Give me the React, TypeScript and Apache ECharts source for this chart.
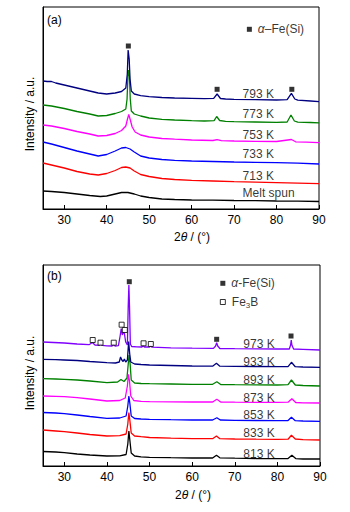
import React, { useEffect, useRef } from 'react';
import * as echarts from 'echarts';

const FONT = 'Liberation Sans, Arial, sans-serif';
const xTicks = [30, 40, 50, 60, 70, 80, 90];

// ---------- Panel (a) ----------
const meltSpun = [[25,18],[27,17.5],[30,16.5],[33,15],[36,13.5],[38.5,12.5],[40,13],[42,15],[43.5,16.5],[45,16.5],[46.5,15],[48,13],[50,11.5],[53,10],[56,9.5],[60,9],[65,8.8],[70,8.5],[75,8.3],[80,8],[85,7.8],[90,7.5]];
const a713 = [[25,46],[27,44],[30,41],[33,37.5],[36,35],[38,34],[40,35.5],[42,38.5],[43.5,41.5],[44.5,42],[45.5,41],[46.5,38],[48,34.5],[50,32.5],[53,30.5],[56,29.5],[60,28.7],[65,28],[70,27.3],[75,26.8],[80,26.3],[85,25.8],[90,25.3]];
const a733 = [[25,67],[27,65],[30,61.5],[33,58],[36,55],[38,53],[40,54.5],[42,58],[43.5,61],[44.5,61.5],[45.5,60],[46.5,57],[48,53],[50,51],[53,49.5],[56,48.7],[60,48],[65,47.5],[70,47],[75,46.6],[80,46.3],[85,45.8],[90,45]];
const a753 = [[25,84],[27,83],[30,80.5],[33,77.5],[36,75],[38,73],[40,73.5],[42,75.5],[43.5,78.5],[44.5,83],[44.9,90],[45.2,94.5],[45.5,90],[46,82],[46.7,77],[48,74],[50,72],[53,70.5],[56,69.8],[60,69],[65,68.5],[66,69.3],[67,68.3],[70,68],[75,67.7],[80,67.5],[83.5,69.5],[84.5,67.2],[87,66.8],[90,66.3]];
const a773 = [[25,104],[27,103],[30,100.5],[33,97.5],[36,95],[38,93],[40,93.5],[42,95.5],[43.5,97.5],[44.5,100],[44.8,110],[45,133],[45.15,139],[45.35,133],[45.55,110],[45.8,98],[46.5,95],[48,93],[50,91],[53,89.7],[56,89],[60,88.3],[63,88],[65.3,88.3],[65.9,92.5],[66.6,88.5],[68,87.7],[70,87.3],[75,87],[80,86.7],[82.5,87],[83.4,94],[84.2,88],[85,86.8],[88,86.5],[90,86.2]];
const a793 = [[25,128],[26,127.5],[27,127.5],[28,126],[30,124],[33,121],[36,118],[38,116],[40,115],[42,116],[43.5,117.5],[44.5,121],[44.85,135],[45.05,159],[45.3,150],[45.5,130],[45.8,118],[46.5,115],[48,113.3],[50,112.3],[53,111.5],[56,111],[60,110.7],[63,110.3],[65.2,110.7],[66,115],[66.8,110.5],[68,110],[70,109.7],[75,109.3],[80,109],[82.5,109.3],[83.5,115.7],[84.3,110],[85,108.8],[88,108],[90,107.3]];
const peaksA = [[45.1,163],[66,119.7],[83.6,119.7]];
const legendA = [[73.6,179.7]];
const namesA = ['793 K','773 K','753 K','733 K','713 K','Melt spun'];
const nameYA = [114.7,94.7,74,54.7,33.3,15.7];

// ---------- Panel (b) ----------
const b813 = [[25,14.5],[28,14],[30,13.3],[33,12],[36,11],[40,10],[43,10.2],[44.5,11.5],[44.9,22],[45.15,35],[45.4,25],[45.7,13],[46.5,10],[48,9.2],[50,8.7],[55,8.3],[60,8],[64.8,8],[65.7,10.7],[66.5,8.2],[70,7.8],[75,7.5],[80,7.3],[82.5,7.5],[83.4,10.7],[84.3,7.4],[86,7],[90,7]];
const b833 = [[25,36],[28,35],[30,34.3],[33,33],[36,31.5],[40,30],[43,30.3],[44.5,32],[44.9,42],[45.15,53.5],[45.4,45],[45.7,33],[46.5,30],[48,29.3],[50,28.5],[55,27.8],[60,27.3],[64.8,27.3],[65.7,30],[66.5,27.3],[70,27],[75,26.8],[80,26.7],[82.5,26.8],[83.3,30.7],[84.2,27],[86,26.3],[90,26]];
const b853 = [[25,53.5],[28,53],[30,52.3],[33,51],[36,49.5],[40,47.7],[43,48],[44.5,50],[44.9,60],[45.15,70],[45.4,62],[45.7,50],[46.5,47.5],[48,47],[50,46.7],[55,46.3],[60,46],[64.8,46],[65.8,48.3],[66.6,46],[70,45.7],[75,45.5],[80,45.3],[82.5,45.5],[83.3,48.7],[84.2,45.3],[86,45],[90,44.7]];
const b873 = [[25,70],[28,69.7],[30,69.3],[33,68.3],[36,67],[40,65],[43,65.5],[44.3,68],[44.8,80],[45.05,91.7],[45.3,85],[45.6,70],[46.3,65.5],[48,64.7],[50,64.3],[55,64.2],[60,64],[64.8,64],[65.8,66.7],[66.7,64],[70,63.8],[75,63.7],[80,63.7],[82.5,63.8],[83.4,67.3],[84.3,63.5],[86,63.2],[90,63]];
const b893 = [[25,87.3],[28,87],[30,86.7],[33,86],[36,85],[40,83.3],[42.5,84],[43.3,86.5],[44,84.5],[44.7,88],[45,102],[45.2,111],[45.45,102],[45.7,86],[46.5,83],[48,82.5],[50,82.3],[55,82],[60,81.7],[64.8,81.7],[65.8,84.3],[66.7,81.5],[70,81.3],[75,81.2],[80,81],[82.5,81.3],[83.3,86],[84.2,81],[86,80.5],[90,80]];
const b933 = [[25,106.7],[28,106.3],[30,106],[33,105.5],[36,104.5],[40,103.3],[42,103],[42.9,104],[43.2,109],[43.5,106],[43.8,104.5],[44.1,107],[44.4,104],[44.8,106],[45.1,124.5],[45.35,112],[45.6,104],[46.5,102],[48,101.5],[50,101],[55,100.5],[60,100],[64.8,99.8],[65.7,102.7],[66.5,99.8],[70,99.6],[75,99.5],[80,99.3],[82.5,99.3],[83.3,103.7],[84.2,99.3],[86,99],[90,98.7]];
const b973 = [[25,124],[27.5,123.5],[30,123],[33,122],[35.8,121.3],[36.6,123.5],[37.2,121],[38.2,120.7],[38.5,122],[38.9,120.6],[40,120.2],[41.2,120],[41.5,121.5],[41.9,120],[42.7,120.3],[43.1,130],[43.35,137.5],[43.6,131],[43.9,134],[44.1,132.5],[44.4,124],[44.8,121],[45,160],[45.15,181],[45.3,160],[45.5,122],[45.8,119.5],[47,119.2],[48.2,119],[48.5,120.3],[48.8,119],[50,119],[50.3,120.2],[50.6,118.8],[55,118.2],[60,117.8],[65,117.6],[65.5,120],[65.75,123.3],[66,120],[66.5,117.5],[70,117.3],[75,117.1],[80,117],[82.8,117],[83.1,121],[83.25,126],[83.4,121],[83.8,117],[86,116.7],[90,116]];
const peaksB = [[45.25,184.3],[65.75,126.7],[83.2,130]];
const fe3bB = [[36.66,126],[38.5,123.3],[41.6,123.3],[43.45,141.3],[44.2,136],[48.6,122.7],[50.3,122]];
const legendB1 = [[67.2,182.7]];
const legendB2 = [[67.2,164]];
const namesB = ['973 K','933 K','893 K','873 K','853 K','833 K','813 K'];
const nameYB = [121.7,104,85.7,68.3,50.7,33.3,11.7];
const nameX = 72;

function line(data: number[][], color: string, idx: number) {
  return {
    type: 'line', data, xAxisIndex: idx, yAxisIndex: idx, showSymbol: false, symbol: 'none',
    lineStyle: { color, width: 1.3 }, z: 2, silent: true,
  };
}

function labels(texts: string[], ys: number[], idx: number) {
  return {
    type: 'scatter', xAxisIndex: idx, yAxisIndex: idx, symbolSize: 0, silent: true, z: 5,
    data: texts.map((t, i) => ({ name: t, value: [nameX, ys[i]] })),
    label: { show: true, position: 'right', distance: 0, formatter: '{b}', color: '#000', fontSize: 12, fontFamily: FONT },
  };
}

function squares(data: number[][], idx: number, open: boolean, labelText?: string) {
  return {
    type: 'scatter', xAxisIndex: idx, yAxisIndex: idx, symbol: 'rect', symbolSize: 5, silent: true, z: 6,
    data,
    itemStyle: open ? { color: '#fff', borderColor: '#000', borderWidth: 1 } : { color: '#000' },
    label: labelText ? {
      show: true, position: 'right', distance: 6, formatter: labelText, color: '#000', fontSize: 12, fontFamily: FONT,
      rich: {
        i: { fontStyle: 'italic', fontSize: 12, fontFamily: FONT, color: '#000' },
        n: { fontSize: 12, fontFamily: FONT, color: '#000' },
        s: { fontSize: 8, fontFamily: FONT, color: '#000', verticalAlign: 'bottom', padding: [7, 0, 0, 0] },
      },
    } : { show: false },
  };
}

function xAxis(idx: number) {
  return {
    type: 'value', gridIndex: idx, min: 25, max: 90,
    axisLine: { show: true, lineStyle: { color: '#000', width: 1 } },
    axisTick: { show: true, inside: true, length: 4, lineStyle: { color: '#000' }, customValues: xTicks },
    axisLabel: { show: true, color: '#000', fontSize: 12, fontFamily: FONT, margin: 5, customValues: xTicks },
    splitLine: { show: false },
  };
}

function yAxis(idx: number, max: number) {
  return {
    type: 'value', gridIndex: idx, min: 0, max,
    axisLine: { show: true, lineStyle: { color: '#000', width: 1 } },
    axisTick: { show: false }, axisLabel: { show: false }, splitLine: { show: false },
  };
}

function textG(text: string, x: number, y: number, rotate = 0) {
  return {
    type: 'text', x, y, rotation: rotate, silent: true,
    style: {
      text, fill: '#000', fontSize: 12, fontFamily: FONT, align: 'center', verticalAlign: 'middle',
      rich: { i: { fontStyle: 'italic', fontSize: 12, fontFamily: FONT, fill: '#000' } },
    },
  };
}

export default function App() {
  const ref = useRef<HTMLDivElement>(null);
  useEffect(() => {
    const chart = echarts.init(ref.current!, null, { renderer: 'svg' });
    chart.setOption({
      animation: false,
      backgroundColor: '#fff',
      textStyle: { fontFamily: FONT },
      grid: [
        { left: 43, top: 7, width: 276, height: 202, show: true, borderColor: '#000', borderWidth: 1 },
        { left: 43, top: 265, width: 277, height: 201, show: true, borderColor: '#000', borderWidth: 1 },
      ],
      xAxis: [xAxis(0), xAxis(1)],
      yAxis: [yAxis(0, 202), yAxis(1, 201)],
      series: [
        line(meltSpun, '#000000', 0),
        line(a713, '#ff0000', 0),
        line(a733, '#0000ff', 0),
        line(a753, '#ff00ff', 0),
        line(a773, '#008000', 0),
        line(a793, '#000080', 0),
        squares(peaksA, 0, false),
        squares(legendA, 0, false, '{i|α}–Fe(Si)'),
        labels(namesA, nameYA, 0),
        line(b813, '#000000', 1),
        line(b833, '#ff0000', 1),
        line(b853, '#0000ff', 1),
        line(b873, '#ff00ff', 1),
        line(b893, '#008000', 1),
        line(b933, '#000080', 1),
        line(b973, '#8000ff', 1),
        squares(peaksB, 1, false),
        squares(fe3bB, 1, true),
        squares(legendB1, 1, false, '{i|α}-Fe(Si)'),
        squares(legendB2, 1, true, '{n|Fe}{s|3}{n|B}'),
        labels(namesB, nameYB, 1),
      ],
      graphic: [
        { ...textG('(a)', 47, 20), style: { ...textG('(a)', 0, 0).style, align: 'left' } },
        { ...textG('(b)', 47, 276), style: { ...textG('(b)', 0, 0).style, align: 'left' } },
        textG('Intensity / a.u.', 30, 114, Math.PI / 2),
        textG('Intensity / a.u.', 30, 373, Math.PI / 2),
        textG('2{i|θ} / (°)', 192, 237),
        textG('2{i|θ} / (°)', 193, 495),
      ],
    });
    return () => chart.dispose();
  }, []);
  return <div ref={ref} style={{ position: 'absolute', left: 0, top: 0, width: 350, height: 512 }} />;
}
